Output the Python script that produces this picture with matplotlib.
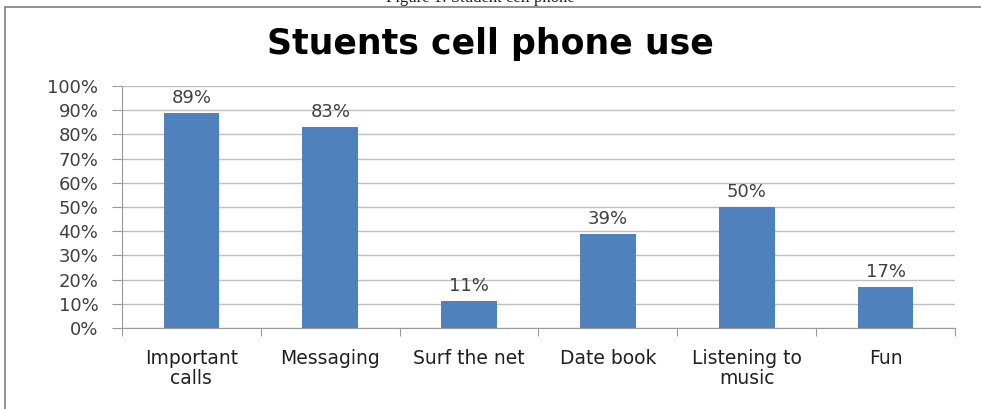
import matplotlib.pyplot as plt
import matplotlib.patches as mpatches
import numpy as np

# chart data
categories = ['Important\ncalls', 'Messaging', 'Surf the net', 'Date book', 'Listening to\nmusic', 'Fun']
values = [89, 83, 11, 39, 50, 17]
yticks = [0, 10, 20, 30, 40, 50, 60, 70, 80, 90, 100]

W, H = 981, 409
fig = plt.figure(figsize=(W / 100, H / 100), dpi=100)
fig.patch.set_facecolor('white')

# caption above the chart, mostly cut off by the top edge
fig.text(0.49, 1 - 2 / H, 'Figure 1: Student cell phone', ha='center', va='baseline',
         family='Liberation Serif', fontsize=12, color='#222222')

# outer chart frame
frame = mpatches.Rectangle((5 / W, -0.05), 1.2, 1 - 7 / H + 0.05, transform=fig.transFigure,
                           fill=False, edgecolor='#7f7f7f', linewidth=1.2)
fig.patches.append(frame)

ax = fig.add_axes([122 / W, 81 / H, 833 / W, 242 / H])
pos = np.arange(len(categories))
ax.bar(pos, values, width=0.4, color='#4f81bd', zorder=3)

for x, v in zip(pos, values):
    ax.text(x, v + 2.5, '%d%%' % v, ha='center', va='bottom', family='DejaVu Sans',
            fontsize=13, color='#404040')

ax.set_xlim(-0.5, len(categories) - 0.5)
ax.set_ylim(0, 100)
ax.set_yticks(yticks)
ax.set_yticklabels(['%d%%' % t for t in yticks], family='DejaVu Sans', fontsize=13, color='#404040')
ax.yaxis.grid(True, color='#bfbfbf', linewidth=1, zorder=0)

# category labels centered, ticks between categories
ax.set_xticks(np.arange(-0.5, len(categories), 1.0))
ax.set_xticklabels([])
ax.set_xticks(pos, minor=True)
ax.set_xticklabels(categories, minor=True, family='DejaVu Sans', fontsize=13.5, color='#202020',
                   linespacing=1.05)
ax.tick_params(axis='x', which='minor', length=0, pad=15)
ax.tick_params(axis='x', which='major', length=6, color='#999999', direction='out')
ax.tick_params(axis='y', length=7, color='#999999', direction='out', pad=10)

for s in ['top', 'right']:
    ax.spines[s].set_visible(False)
ax.spines['left'].set_color('#999999')
ax.spines['bottom'].set_color('#999999')

fig.text(0.50, 1 - 44 / H, 'Stuents cell phone use', ha='center', va='center',
         family='DejaVu Sans', fontweight='bold', fontsize=25, color='black')

fig.savefig('out.png', dpi=100)
